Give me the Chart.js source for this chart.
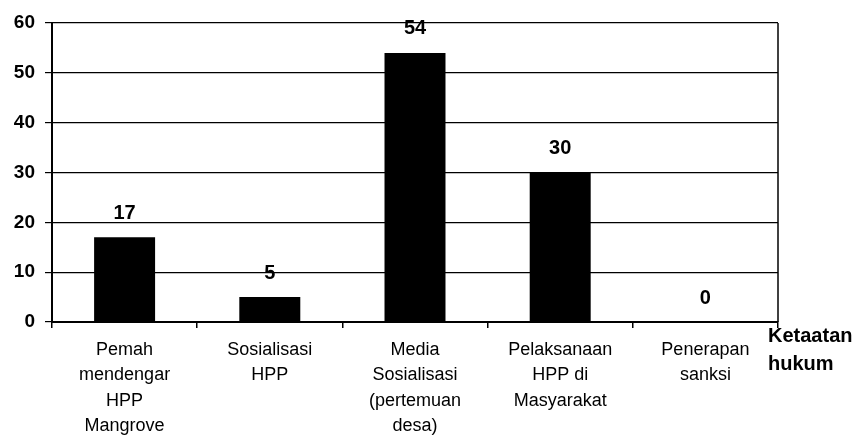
<!DOCTYPE html>
<html>
<head>
<meta charset="utf-8">
<script src="https://cdn.jsdelivr.net/npm/chart.js@4"></script>
<style>
  html, body { margin: 0; padding: 0; background: #fff; overflow: hidden; }
</style>
</head>
<body>
<canvas id="myChart" width="860" height="438"></canvas>
<script>
const categories = [
    ['Pemah', 'mendengar', 'HPP', 'Mangrove'],
    ['Sosialisasi', 'HPP'],
    ['Media', 'Sosialisasi', '(pertemuan', 'desa)'],
    ['Pelaksanaan', 'HPP di', 'Masyarakat'],
    ['Penerapan', 'sanksi'],
];
const values = [17, 5, 54, 30, 0];
const yTicks = [0, 10, 20, 30, 40, 50, 60];
const axisTitle = ['Ketaatan', 'hukum'];

const FONT = 'Arial, "Liberation Sans"';

// labels above bars, right border, and the axis title to the right of the plot
const extras = {
    id: 'extras',
    afterDatasetsDraw(chart) {
        const c = chart.ctx;
        const area = chart.chartArea;
        const meta = chart.getDatasetMeta(0);
        c.save();
        c.strokeStyle = '#000';
        c.lineWidth = 1.5;
        c.beginPath();
        c.moveTo(area.right, area.top);
        c.lineTo(area.right, area.bottom);
        c.stroke();

        c.fillStyle = '#000';
        c.font = 'bold 20px ' + FONT;
        c.textAlign = 'center';
        c.textBaseline = 'middle';
        meta.data.forEach((bar, i) => {
            c.fillText(String(values[i]), bar.x, bar.y - 24);
        });

        c.textAlign = 'left';
        axisTitle.forEach((t, i) => {
            c.fillText(t, area.right - 10, area.bottom + 14 + i * 28);
        });
        c.restore();
    }
};

const ctx = document.getElementById('myChart');
let myChart = new Chart(ctx, {
    type: 'bar',
    data: {
        labels: categories,
        datasets: [{
            data: values,
            backgroundColor: '#000',
            borderWidth: 0,
            barPercentage: 0.84,
            categoryPercentage: 0.5,
        }],
    },
    options: {
        responsive: false,
        animation: false,
        devicePixelRatio: 1,
        layout: { padding: { top: 23, right: 82, left: 0, bottom: 0 } },
        plugins: { legend: { display: false }, tooltip: { enabled: false } },
        scales: {
            x: {
                grid: { drawOnChartArea: false, color: '#000', tickLength: 6, lineWidth: 1.5 },
                border: { color: '#000', width: 2 },
                ticks: {
                    color: '#000',
                    maxRotation: 0,
                    autoSkip: false,
                    padding: 10,
                    font: { family: FONT, size: 18, lineHeight: 1.39 },
                },
                afterFit(scale) { scale.height = 116; },
            },
            y: {
                min: 0,
                max: 60,
                afterBuildTicks(scale) { scale.ticks = yTicks.map(v => ({ value: v })); },
                grid: { color: '#000', tickLength: 7, lineWidth: 1.2 },
                border: { color: '#000', width: 2 },
                ticks: {
                    color: '#000',
                    padding: 10,
                    font: { family: FONT, size: 19, weight: 'bold' },
                },
                afterFit(scale) { scale.width = 52; },
            },
        },
    },
    plugins: [extras],
});
</script>
</body>
</html>
